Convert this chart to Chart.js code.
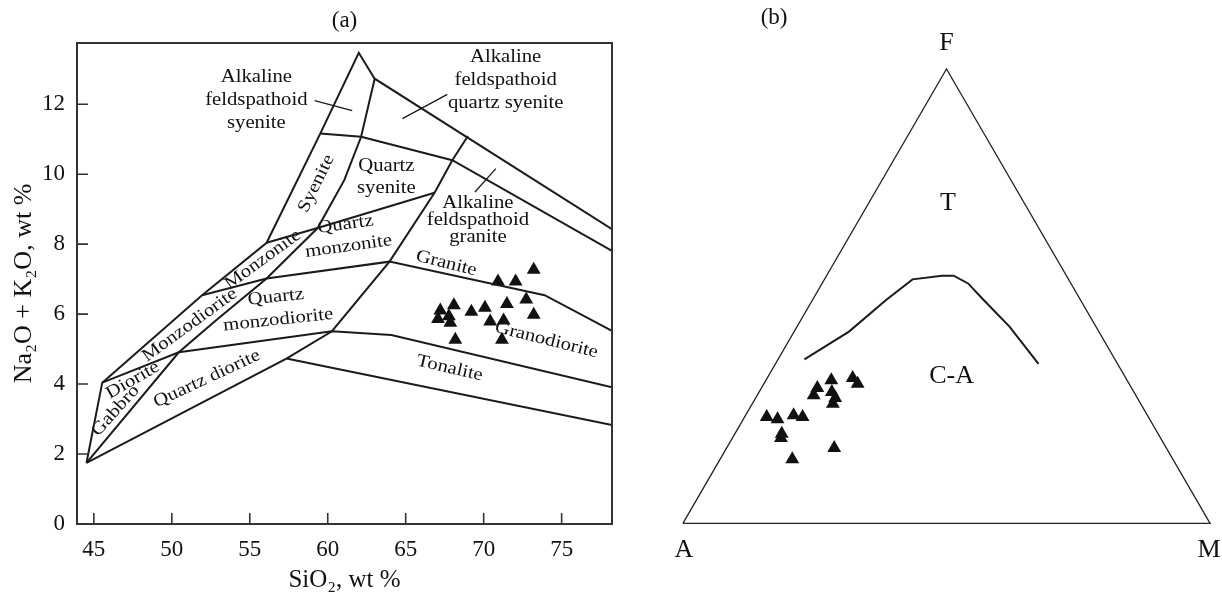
<!DOCTYPE html>
<html><head><meta charset="utf-8">
<script src="https://cdn.jsdelivr.net/npm/chart.js@4.4.1/dist/chart.umd.min.js"></script>
<style>
html,body{margin:0;padding:0;background:#fff;}
#wrap{position:relative;width:1222px;height:595px;overflow:hidden;background:#fff;}
#c1{position:absolute;left:0;top:0;}
#c2{position:absolute;left:640px;top:0;}
</style></head><body>
<div id="wrap"><canvas id="c1" width="640" height="595"></canvas><canvas id="c2" width="582" height="595"></canvas></div>
<script>
// ---------- (a) SiO2 vs Na2O+K2O ----------
const siO2    = [73.21,70.92,72.05,72.73,71.49,68.09,67.22,69.21,70.08,73.21,67.77,67.07,67.86,70.42,71.28,68.18,71.17];
const alkalis = [7.27, 6.93, 6.93, 6.42, 6.29, 6.25, 6.10, 6.07, 6.18, 5.98, 5.94, 5.86, 5.75, 5.79, 5.82, 5.27, 5.27];
const xTickValues = [45,50,55,60,65,70,75];
const yTickValues = [0,2,4,6,8,10,12];
// classification boundaries [SiO2, Na2O+K2O]
const lineOuter        = [[44.53,1.75],[45.54,4.04],[51.94,6.54],[56.08,8.04],[59.52,11.16],[61.99,13.47],[63.01,12.73],[78.23,8.43]];
const lineQuartz       = [[44.53,1.75],[57.35,4.73],[60.27,5.51],[63.96,7.50],[66.85,9.47],[67.99,10.40],[68.99,11.09]];
const lineDiagonal     = [[44.53,1.75],[50.45,4.91],[52.86,5.83],[56.08,7.02],[59.35,8.46],[61.06,9.83],[62.14,11.07],[63.01,12.73]];
const lineDiorite      = [[45.54,4.04],[50.45,4.91],[60.27,5.51],[64.08,5.40],[78.23,3.91]];
const lineMonzodiorite = [[51.94,6.54],[56.08,7.02],[63.96,7.50],[73.91,6.54],[78.23,5.52]];
const lineMonzonite    = [[56.08,8.04],[59.35,8.46],[66.85,9.47]];
const lineSyenite      = [[59.52,11.16],[62.14,11.07],[67.99,10.40],[78.23,7.81]];
const lineTonalite     = [[57.35,4.73],[78.23,2.83]];
const leaderAFS        = [[59.16,12.10],[61.57,11.82]];
const leaderAFQS       = [[64.79,11.59],[67.67,12.28]];
const leaderAFG        = [[69.44,9.49],[70.78,10.16]];

// ---------- (b) AFM ----------
const afmA = [51.8,51.5,56.1,59.6,61.1,57.3,57.3,58.4,72.4,70.6,67.1,65.6,71.4,72.0,63.0,72.2];
const afmF = [32.0,30.7,31.5,29.8,28.2,28.9,27.6,26.3,23.4,22.9,23.8,23.4,19.7,18.8,16.6,14.1];
const afmM = [16.2,17.8,12.4,10.6,10.7,13.8,15.1,15.3, 4.2, 6.5, 9.1,11.0, 8.9, 9.2,20.4,13.7];
// tholeiitic / calc-alkaline divide
const divideA = [58.9,47.4,36.8,29.6,23.6,21.4,19.5,18.4,16.4,15.0];
const divideF = [36.1,42.2,49.2,53.7,54.5,54.5,52.8,49.2,43.3,35.1];
const divideM = [ 5.0,10.4,14.0,16.7,21.9,24.1,27.7,32.4,40.3,49.9];
// triangle corners A, M, F, A
const frameA = [100,0,0,100];
const frameF = [0,0,100,0];
const frameM = [0,100,0,0];

// ---------- helpers ----------
const SERIF = "'Liberation Serif','Times New Roman',serif";
Chart.defaults.font.family = SERIF;
Chart.defaults.color = '#111';
const pairs = arr => arr.map(p => ({x:p[0], y:p[1]}));
function tern(a,f,m){
  return a.map((_,i)=>{const s=a[i]+f[i]+m[i];return {x:(m[i]+f[i]/2)/s*100, y:f[i]/s*100};});
}
const lineStyle = {showLine:true,pointRadius:0,borderColor:'#1b1b1b',borderWidth:2,tension:0,fill:false};

// ---------- (a) labels ----------
const tasLabels = [
  {t:['Alkaline','feldspathoid','syenite'], x:55.42, y:12.12, r:0, lh:23},
  {t:['Quartz','syenite'], x:63.76, y:9.90, r:0, lh:22},
  {t:['Syenite'], x:59.27, y:9.73, r:-64, lh:22},
  {t:['Quartz','monzonite'], x:61.24, y:8.25, r:-8, lh:22},
  {t:['Monzonite'], x:55.84, y:7.56, r:-36, lh:22},
  {t:['Quartz','monzodiorite'], x:56.75, y:6.16, r:-6, lh:23},
  {t:['Monzodiorite'], x:51.15, y:5.69, r:-36, lh:22},
  {t:['Diorite'], x:47.5, y:4.11, r:-30, lh:22},
  {t:['Gabbro'], x:46.39, y:3.24, r:-48, lh:22},
  {t:['Quartz diorite'], x:52.25, y:4.15, r:-25, lh:22},
  {t:['Alkaline','feldspathoid','quartz syenite'], x:71.41, y:12.69, r:0, lh:23},
  {t:['Alkaline','feldspathoid','granite'], x:69.63, y:8.68, r:0, lh:17},
  {t:['Granite'], x:67.6, y:7.45, r:14, lh:22},
  {t:['Granodiorite'], x:74.02, y:5.26, r:14, lh:22},
  {t:['Tonalite'], x:67.82, y:4.45, r:13, lh:22}
];

const tasDecor = {
  id:'tasDecor',
  beforeDatasetsDraw(chart){
    const {ctx, scales:{x,y}} = chart;
    ctx.save();
    ctx.fillStyle = '#111';
    ctx.font = '18px ' + SERIF;
    ctx.textAlign = 'center';
    ctx.textBaseline = 'middle';
    tasLabels.forEach(l=>{
      ctx.save();
      ctx.translate(x.getPixelForValue(l.x), y.getPixelForValue(l.y));
      ctx.rotate(l.r*Math.PI/180);
      ctx.scale(1.15,1);
      const n = l.t.length;
      l.t.forEach((s,i)=>ctx.fillText(s,0,(i-(n-1)/2)*l.lh));
      ctx.restore();
    });
    ctx.restore();
  },
  afterDatasetsDraw(chart){
    const {ctx, chartArea:a, scales:{x,y}} = chart;
    ctx.save();
    ctx.strokeStyle = '#333';
    ctx.lineWidth = 2;
    ctx.strokeRect(a.left, a.top, a.right-a.left, a.bottom-a.top);
    ctx.lineWidth = 1.6;
    ctx.beginPath();
    x.ticks.forEach(t=>{const p=x.getPixelForValue(t.value);ctx.moveTo(p,a.bottom);ctx.lineTo(p,a.bottom-11);});
    y.ticks.forEach(t=>{const p=y.getPixelForValue(t.value);if(t.value===0)return;ctx.moveTo(a.left,p);ctx.lineTo(a.left+11,p);});
    ctx.stroke();
    ctx.restore();
  }
};

new Chart(document.getElementById('c1'), {
  type:'scatter',
  data:{datasets:[
    {...lineStyle, data:pairs(lineOuter)},
    {...lineStyle, data:pairs(lineQuartz)},
    {...lineStyle, data:pairs(lineDiagonal)},
    {...lineStyle, data:pairs(lineDiorite)},
    {...lineStyle, data:pairs(lineMonzodiorite)},
    {...lineStyle, data:pairs(lineMonzonite)},
    {...lineStyle, data:pairs(lineSyenite)},
    {...lineStyle, data:pairs(lineTonalite)},
    {...lineStyle, borderWidth:1.3, data:pairs(leaderAFS)},
    {...lineStyle, borderWidth:1.3, data:pairs(leaderAFQS)},
    {...lineStyle, borderWidth:1.3, data:pairs(leaderAFG)},
    {data:siO2.map((v,i)=>({x:v,y:alkalis[i]})), pointStyle:'triangle', pointRadius:8, pointBackgroundColor:'#111', pointBorderColor:'#111', pointBorderWidth:0, showLine:false, clip:false}
  ]},
  options:{
    responsive:false, devicePixelRatio:1, animation:false,
    layout:{padding:{left:0,right:28,top:0,bottom:0}},
    plugins:{
      legend:{display:false}, tooltip:{enabled:false},
      title:{display:true, text:'(a)', fullSize:false, color:'#111', font:{size:23, weight:'normal', family:SERIF, lineHeight:1.2}, padding:{top:7,bottom:8.4}}
    },
    scales:{
      x:{type:'linear', min:43.92, max:78.23,
        afterBuildTicks(s){s.ticks = xTickValues.map(v=>({value:v}));},
        afterFit(s){s.height = 71;},
        grid:{display:false, drawTicks:false}, border:{display:false},
        ticks:{font:{size:23}, color:'#111', padding:12, maxRotation:0},
        title:{display:true, text:'SiO₂, wt %', font:{size:25}, color:'#111', padding:{top:0,bottom:0}}
      },
      y:{type:'linear', min:0, max:13.75,
        afterBuildTicks(s){s.ticks = yTickValues.map(v=>({value:v}));},
        afterFit(s){s.width = 77;},
        grid:{display:false, drawTicks:false}, border:{display:false},
        ticks:{font:{size:23}, color:'#111', padding:12},
        title:{display:true, text:'Na₂O + K₂O, wt %', font:{size:26}, color:'#111', padding:{top:9,bottom:0}}
      }
    }
  },
  plugins:[tasDecor]
});

// ---------- (b) chart ----------
const afmLabels = [
  {t:'(b)', x:17.3, y:111.2, size:23},
  {t:'F', x:50, y:105.7, size:26},
  {t:'T', x:50.25, y:70.4, size:26},
  {t:'C-A', x:50.97, y:32.4, size:26},
  {t:'A', x:0.2, y:-5.9, size:26},
  {t:'M', x:99.8, y:-5.9, size:26}
];
const afmDecor = {
  id:'afmDecor',
  afterDatasetsDraw(chart){
    const {ctx, scales:{x,y}} = chart;
    ctx.save();
    ctx.fillStyle='#111'; ctx.textAlign='center'; ctx.textBaseline='middle';
    afmLabels.forEach(l=>{
      ctx.font = l.size+'px '+SERIF;
      ctx.fillText(l.t, x.getPixelForValue(l.x), y.getPixelForValue(l.y));
    });
    ctx.restore();
  }
};

new Chart(document.getElementById('c2'), {
  type:'scatter',
  data:{datasets:[
    {showLine:true, pointRadius:0, borderColor:'#222', borderWidth:1.3, tension:0, clip:false, data:tern(frameA,frameF,frameM)},
    {showLine:true, pointRadius:0, borderColor:'#1b1b1b', borderWidth:2, tension:0, clip:false, data:tern(divideA,divideF,divideM)},
    {data:tern(afmA,afmF,afmM), pointStyle:'triangle', pointRadius:8, pointBackgroundColor:'#111', pointBorderColor:'#111', pointBorderWidth:0, showLine:false, clip:false}
  ]},
  options:{
    responsive:false, devicePixelRatio:1, animation:false,
    layout:{padding:{left:42.9,right:11.9,top:69,bottom:71.7}},
    plugins:{legend:{display:false}, tooltip:{enabled:false}},
    scales:{
      x:{type:'linear', min:0, max:100, display:false},
      y:{type:'linear', min:0, max:100, display:false}
    }
  },
  plugins:[afmDecor]
});
</script>
</body></html>
